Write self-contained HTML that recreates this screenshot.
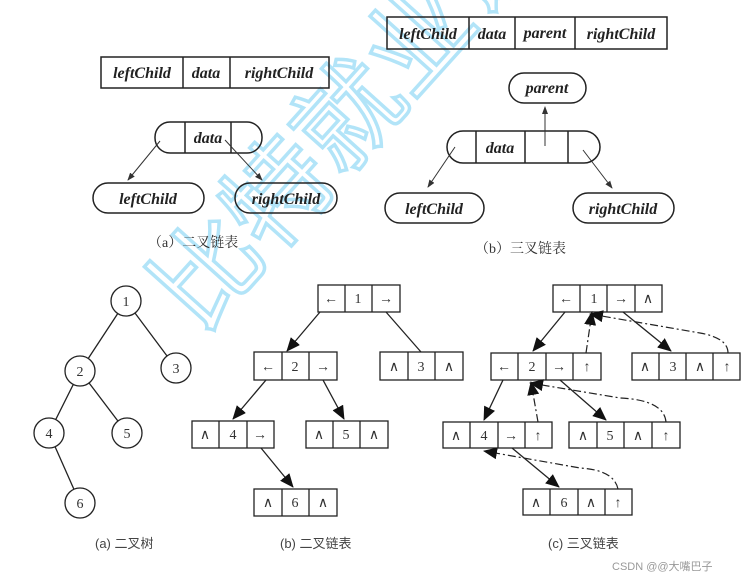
<!DOCTYPE html>
<html><head><meta charset="utf-8"><style>
html,body{margin:0;padding:0;background:#fff;}
svg{display:block;}
.it{font-family:"Liberation Serif",serif;font-style:italic;font-weight:bold;font-size:16px;fill:#222;}
.n{font-family:"Liberation Serif",serif;font-size:14px;fill:#333;}
.cap{font-family:"Liberation Serif","Noto Serif CJK SC",serif;font-size:14px;fill:#333;}
.s{font-family:"Liberation Sans","Noto Sans CJK SC",sans-serif;font-size:13px;fill:#444;}
</style></head><body>
<svg width="749" height="579" viewBox="0 0 749 579" xmlns="http://www.w3.org/2000/svg">
<defs>
<marker id="a" markerWidth="8" markerHeight="8" refX="7" refY="4" orient="auto" markerUnits="userSpaceOnUse"><path d="M0,1 L8,4 L0,7 z" fill="#333"/></marker>
<marker id="b" markerWidth="14" markerHeight="12" refX="13" refY="6" orient="auto" markerUnits="userSpaceOnUse"><path d="M0,0 L14,6 L0,12 z" fill="#111"/></marker>
</defs>
<rect width="749" height="579" fill="#fff"/>

<g transform="translate(200,335) rotate(-48)" opacity="0.6">
<text x="0" y="0" font-family="Noto Sans CJK SC,sans-serif" font-size="105" fill="none" stroke="#7fd3f5" stroke-width="3.5">比特就业课</text>
</g>

<g stroke="#222" stroke-width="1.5" fill="none">
<rect x="101" y="57" width="228" height="31"/><line x1="183" y1="57" x2="183" y2="88"/><line x1="230" y1="57" x2="230" y2="88"/>
<rect x="387" y="17" width="280" height="32"/><line x1="469" y1="17" x2="469" y2="49"/><line x1="515" y1="17" x2="515" y2="49"/><line x1="575" y1="17" x2="575" y2="49"/>
<rect x="155" y="122" width="107" height="31" rx="15"/><line x1="185" y1="122" x2="185" y2="153"/><line x1="231" y1="122" x2="231" y2="153"/>
<rect x="93" y="183" width="111" height="30" rx="15"/>
<rect x="235" y="183" width="102" height="30" rx="15"/>
<rect x="509" y="73" width="77" height="30" rx="15"/>
<rect x="447" y="131" width="153" height="32" rx="16"/><line x1="476" y1="131" x2="476" y2="163"/><line x1="525" y1="131" x2="525" y2="163"/><line x1="568" y1="131" x2="568" y2="163"/>
<rect x="385" y="193" width="99" height="30" rx="15"/>
<rect x="573" y="193" width="101" height="30" rx="15"/>
</g>
<g stroke="#333" stroke-width="1" marker-end="url(#a)">
<line x1="160" y1="141" x2="128" y2="180"/>
<line x1="225" y1="140" x2="262" y2="180"/>
<line x1="545" y1="146" x2="545" y2="107"/>
<line x1="455" y1="147" x2="428" y2="187"/>
<line x1="583" y1="150" x2="612" y2="188"/>
</g>
<g class="it">
<text x="142" y="78" text-anchor="middle">leftChild</text><text x="206" y="78" text-anchor="middle">data</text><text x="279" y="78" text-anchor="middle">rightChild</text>
<text x="428" y="39" text-anchor="middle">leftChild</text><text x="492" y="39" text-anchor="middle">data</text><text x="545" y="38" text-anchor="middle">parent</text><text x="621" y="39" text-anchor="middle">rightChild</text>
<text x="208" y="143" text-anchor="middle">data</text>
<text x="148" y="204" text-anchor="middle">leftChild</text><text x="286" y="204" text-anchor="middle">rightChild</text>
<text x="547" y="93" text-anchor="middle">parent</text>
<text x="500" y="153" text-anchor="middle">data</text>
<text x="434" y="214" text-anchor="middle">leftChild</text><text x="623" y="214" text-anchor="middle">rightChild</text>
</g>
<text class="cap" x="148" y="247">（a）二叉链表</text>
<text class="cap" x="475" y="253">（b）三叉链表</text>

<g stroke="#222" stroke-width="1.3" fill="none">
<line x1="126" y1="301" x2="80" y2="371"/><line x1="126" y1="301" x2="176" y2="368"/>
<line x1="80" y1="371" x2="49" y2="433"/><line x1="80" y1="371" x2="127" y2="433"/>
<line x1="49" y1="433" x2="80" y2="503"/>
</g>
<g stroke="#222" stroke-width="1.3" fill="#fff">
<circle cx="126" cy="301" r="15"/><circle cx="80" cy="371" r="15"/><circle cx="176" cy="368" r="15"/><circle cx="49" cy="433" r="15"/><circle cx="127" cy="433" r="15"/><circle cx="80" cy="503" r="15"/>
</g>
<g class="n" text-anchor="middle">
<text x="126" y="306">1</text><text x="80" y="376">2</text><text x="176" y="373">3</text><text x="49" y="438">4</text><text x="127" y="438">5</text><text x="80" y="508">6</text>
</g>
<text class="s" x="95" y="548">(a) 二叉树</text>

<g stroke="#222" stroke-width="1.3" fill="none">
<rect x="318" y="285" width="82" height="27"/><line x1="345" y1="285" x2="345" y2="312"/><line x1="372" y1="285" x2="372" y2="312"/>
<rect x="254" y="352" width="83" height="28"/><line x1="282" y1="352" x2="282" y2="380"/><line x1="309" y1="352" x2="309" y2="380"/>
<rect x="380" y="352" width="83" height="28"/><line x1="408" y1="352" x2="408" y2="380"/><line x1="435" y1="352" x2="435" y2="380"/>
<rect x="192" y="421" width="82" height="27"/><line x1="219" y1="421" x2="219" y2="448"/><line x1="247" y1="421" x2="247" y2="448"/>
<rect x="306" y="421" width="82" height="27"/><line x1="333" y1="421" x2="333" y2="448"/><line x1="360" y1="421" x2="360" y2="448"/>
<rect x="254" y="489" width="83" height="27"/><line x1="282" y1="489" x2="282" y2="516"/><line x1="309" y1="489" x2="309" y2="516"/>
</g>
<g stroke="#222" stroke-width="1.3" marker-end="url(#b)">
<line x1="320" y1="312" x2="287" y2="351"/>
<line x1="266" y1="380" x2="233" y2="419"/>
<line x1="323" y1="380" x2="344" y2="419"/>
<line x1="261" y1="448" x2="293" y2="487"/>
</g>
<line x1="386" y1="312" x2="421" y2="352" stroke="#222" stroke-width="1.3"/>
<g class="n" text-anchor="middle">
<text x="331" y="303">←</text><text x="358" y="303">1</text><text x="386" y="303">→</text>
<text x="268" y="371">←</text><text x="295" y="371">2</text><text x="323" y="371">→</text>
<text x="394" y="371">∧</text><text x="421" y="371">3</text><text x="449" y="371">∧</text>
<text x="205" y="439">∧</text><text x="233" y="439">4</text><text x="260" y="439">→</text>
<text x="319" y="439">∧</text><text x="346" y="439">5</text><text x="374" y="439">∧</text>
<text x="268" y="507">∧</text><text x="295" y="507">6</text><text x="323" y="507">∧</text>
</g>
<text class="s" x="280" y="548">(b) 二叉链表</text>

<g stroke="#222" stroke-width="1.3" fill="none">
<rect x="553" y="285" width="109" height="27"/><line x1="580" y1="285" x2="580" y2="312"/><line x1="607" y1="285" x2="607" y2="312"/><line x1="635" y1="285" x2="635" y2="312"/>
<rect x="491" y="353" width="110" height="27"/><line x1="518" y1="353" x2="518" y2="380"/><line x1="546" y1="353" x2="546" y2="380"/><line x1="573" y1="353" x2="573" y2="380"/>
<rect x="632" y="353" width="108" height="27"/><line x1="659" y1="353" x2="659" y2="380"/><line x1="686" y1="353" x2="686" y2="380"/><line x1="713" y1="353" x2="713" y2="380"/>
<rect x="443" y="422" width="109" height="26"/><line x1="470" y1="422" x2="470" y2="448"/><line x1="498" y1="422" x2="498" y2="448"/><line x1="525" y1="422" x2="525" y2="448"/>
<rect x="569" y="422" width="111" height="26"/><line x1="597" y1="422" x2="597" y2="448"/><line x1="624" y1="422" x2="624" y2="448"/><line x1="652" y1="422" x2="652" y2="448"/>
<rect x="523" y="489" width="109" height="26"/><line x1="550" y1="489" x2="550" y2="515"/><line x1="578" y1="489" x2="578" y2="515"/><line x1="605" y1="489" x2="605" y2="515"/>
</g>
<g stroke="#222" stroke-width="1.3" marker-end="url(#b)">
<line x1="565" y1="312" x2="533" y2="351"/>
<line x1="623" y1="312" x2="671" y2="351"/>
<line x1="503" y1="380" x2="484" y2="420"/>
<line x1="560" y1="380" x2="606" y2="420"/>
<line x1="512" y1="448" x2="559" y2="487"/>
</g>
<g stroke="#222" stroke-width="1.2" fill="none" stroke-dasharray="8,3,2,3" marker-end="url(#b)">
<path d="M586,353 L592,312"/>
<path d="M728,353 Q728,338 700,333 L590,314"/>
<path d="M538,422 L531,382"/>
<path d="M666,422 Q664,400 620,398 L530,383"/>
<path d="M618,489 Q614,470 580,468 L484,451"/>
</g>
<g class="n" text-anchor="middle">
<text x="566" y="303">←</text><text x="594" y="303">1</text><text x="621" y="303">→</text><text x="648" y="303">∧</text>
<text x="504" y="371">←</text><text x="532" y="371">2</text><text x="559" y="371">→</text><text x="587" y="371">↑</text>
<text x="645" y="371">∧</text><text x="673" y="371">3</text><text x="700" y="371">∧</text><text x="727" y="371">↑</text>
<text x="456" y="440">∧</text><text x="484" y="440">4</text><text x="511" y="440">→</text><text x="538" y="440">↑</text>
<text x="583" y="440">∧</text><text x="610" y="440">5</text><text x="638" y="440">∧</text><text x="666" y="440">↑</text>
<text x="536" y="507">∧</text><text x="564" y="507">6</text><text x="591" y="507">∧</text><text x="618" y="507">↑</text>
</g>
<text class="s" x="548" y="548">(c) 三叉链表</text>

<text x="612" y="570" font-family="Liberation Sans,Noto Sans CJK SC,sans-serif" font-size="11" fill="#999">CSDN @@大嘴巴子</text>
</svg>
</body></html>
